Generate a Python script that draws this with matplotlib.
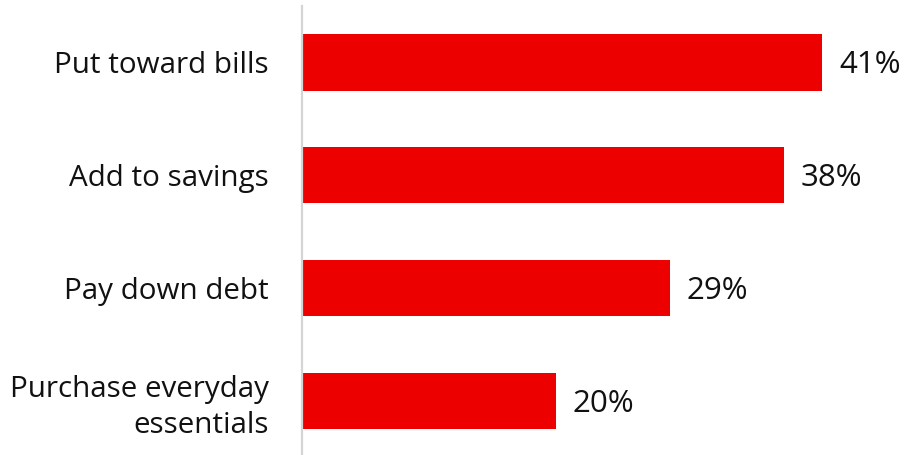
import matplotlib.pyplot as plt

categories = ["Put toward bills", "Add to savings", "Pay down debt",
              "Purchase everyday\nessentials"]
values = [41, 38, 29, 20]

plt.rcParams['font.family'] = ['Open Sans', 'DejaVu Sans']

fig = plt.figure(figsize=(9.1, 4.55), dpi=100)
ax = fig.add_axes([302 / 910, 0, 1 - 302 / 910, 1 - 6 / 455])

pos = range(len(categories))
bars = ax.barh(pos, values, height=0.5, color="#EC0000")
ax.set_ylim(3.48, -0.5)
ax.set_xlim(0, 47.9)

# value labels just right of each bar
for b, v in zip(bars, values):
    ax.annotate(f"{v}%", (b.get_width(), b.get_y() + b.get_height() / 2),
                xytext=(12, -2), textcoords="offset points",
                ha="left", va="center", fontsize=22.5, color="#111111")

ax.set_yticks(list(pos))
ax.set_yticklabels(categories, fontsize=21.3, color="#111111",
                   linespacing=1.32)
ax.tick_params(axis="y", length=0, pad=24)
ax.set_xticks([])
for s in ["top", "right", "bottom"]:
    ax.spines[s].set_visible(False)
ax.spines["left"].set_color("#d4d4d4")
ax.spines["left"].set_linewidth(1.6)

fig.savefig("out.png", dpi=100)
